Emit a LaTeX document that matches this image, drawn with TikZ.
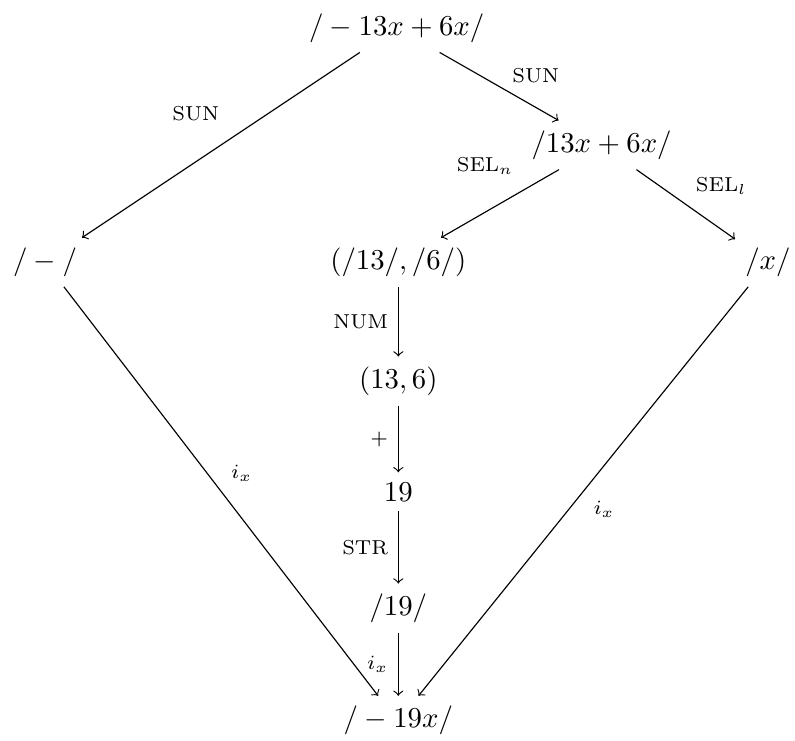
\documentclass[tikz,border=0pt]{standalone}
\usepackage{amsmath}

\begin{document}
\begin{tikzpicture}[lbl/.style={font=\scriptsize}]

\useasboundingbox (0,0) rectangle (9.70,9.03);

\node (top) at (4.84,8.69) {$/-13x+6x/$};
\node (sun) at (7.34,7.26) {$/13x+6x/$};
\node (neg) at (0.55,5.83) {$/-/$};
\node (pairs) at (4.86,5.83) {$(/13/,/6/)$};
\node (var) at (9.37,5.83) {$/x/$};
\node (nums) at (4.86,4.38) {$(13,6)$};
\node (sum) at (4.86,3.03) {$19$};
\node (str) at (4.86,1.61) {$/19/$};
\node (res) at (4.86,0.24) {$/-19x/$};

\draw[->] (top) -- (neg) node[lbl,pos=0.47,above left,yshift=3pt] {$\mathrm{SUN}$};
\draw[->] (top) -- (sun) node[lbl,pos=0.55,above right,xshift=-1pt,yshift=-1pt] {$\mathrm{SUN}$};
\draw[->] (sun) -- (pairs) node[lbl,pos=0.3,above left,yshift=2pt] {$\mathrm{SEL}_n$};
\draw[->] (sun) -- (var) node[lbl,midway,above right] {$\mathrm{SEL}_l$};

% the chain in the middle
\foreach \a/\b/\l in {pairs/nums/\mathrm{NUM}, nums/sum/+, sum/str/\mathrm{STR}, str/res/i_x} {
        \draw[->] (\a) -- (\b) node[lbl,midway,left] {$\l$};
}

\draw[->] (neg) -- ([xshift=-7pt]res.north) node[lbl,midway,above right] {$i_x$};
\draw[->] (var) -- ([xshift=7pt]res.north) node[lbl,midway,below right] {$i_x$};

\end{tikzpicture}
\end{document}
